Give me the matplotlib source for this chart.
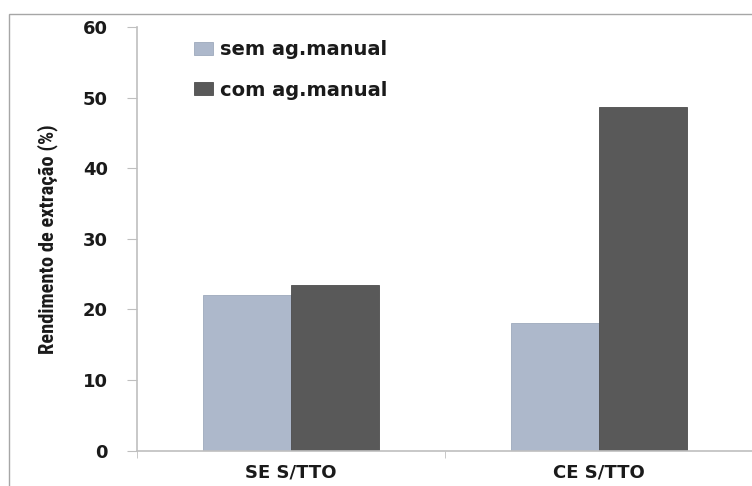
import numpy as np
import matplotlib
matplotlib.use("Agg")
import matplotlib.pyplot as plt
from matplotlib import font_manager
from matplotlib.patches import Rectangle

# extraction yield per condition
categories = ['SE S/TTO', 'CE S/TTO']
sem_ag = [22.0, 18.0]
com_ag = [23.4, 48.6]
series_labels = ['sem ag.manual', 'com ag.manual']
yticks = [0, 10, 20, 30, 40, 50, 60]

light = '#ADB8CB'
dark = '#595959'
axis_grey = '#BFBFBF'
txt = '#1a1a1a'

# narrow face for the axis title, whichever is installed
installed = {f.name for f in font_manager.fontManager.ttflist}
narrow = 'DejaVu Sans'
for name in ['Liberation Sans Narrow', 'DejaVu Sans Condensed', 'Roboto Condensed', 'Open Sans Condensed', 'Roboto']:
    if name in installed:
        narrow = name
        break

fig = plt.figure(figsize=(7.52, 4.86), dpi=100)
ax = fig.add_axes([137/752, 1 - 450.5/486, 616/752, 423.5/486])

x = np.arange(len(categories))
w = 0.286
ax.bar(x - w/2, sem_ag, width=w, color=light, edgecolor='#9EA9BC', linewidth=0.6, label=series_labels[0])
ax.bar(x + w/2, com_ag, width=w, color=dark, edgecolor='#4D4D4D', linewidth=0.6, label=series_labels[1])

ax.set_xlim(-0.5, len(categories) - 0.5)
ax.set_ylim(0, 60)
ax.set_yticks(yticks)
ax.set_yticklabels([str(t) for t in yticks], fontsize=13, fontweight='bold', color=txt)
ax.set_xticks(x)
ax.set_xticklabels(categories, fontsize=13, fontweight='bold', color=txt)
ax.set_xticks([-0.5, 0.5, 1.5], minor=True)
ax.tick_params(axis='x', which='major', length=0, pad=9)
ax.tick_params(axis='x', which='minor', length=5, color=axis_grey, direction='out')
ax.tick_params(axis='y', length=7, color=axis_grey, direction='out', pad=14)

for s in ['top', 'right']:
    ax.spines[s].set_visible(False)
for s in ['left', 'bottom']:
    ax.spines[s].set_color(axis_grey)
    ax.spines[s].set_linewidth(1.2)

ylab_size = 14.8 if narrow != 'DejaVu Sans' else 11
ax.set_ylabel('Rendimento de extração (%)', family=[narrow, 'DejaVu Sans'],
              fontweight='bold', fontsize=ylab_size, color=txt, labelpad=18)

leg = ax.legend(loc='upper left', bbox_to_anchor=(0.064, 1.01), frameon=False,
                prop={'weight': 'bold', 'size': 14}, handlelength=1.0, handleheight=0.65,
                handletextpad=0.35, labelspacing=1.1)
for t in leg.get_texts():
    t.set_color(txt)

# outer chart frame
fig.patches.append(Rectangle((9/752, -0.1), 1.2, 1.1 - 14/486, transform=fig.transFigure,
                             fill=False, edgecolor='#A6A6A6', linewidth=1.0))

fig.savefig('out.png', dpi=100)
